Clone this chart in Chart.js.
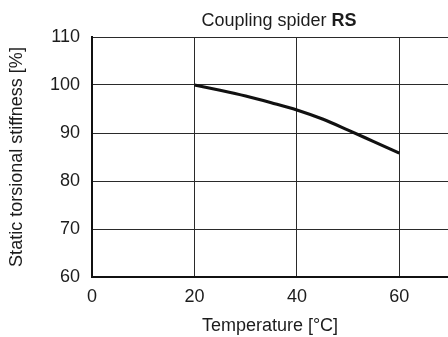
<!DOCTYPE html>
<html>
<head>
<meta charset="utf-8">
<script src="https://cdn.jsdelivr.net/npm/chart.js@4/dist/chart.umd.min.js"></script>
<style>
	html, body { margin: 0; padding: 0; background: #fff; overflow: hidden; }
	#box { width: 448px; height: 337px; }
</style>
</head>
<body>
<div id="box"><canvas id="canvas"></canvas></div>
<script>
	// stiffness curve of the RS spider vs temperature
	var temperature = [20, 25, 30, 35, 40, 45, 50, 55, 60];
	var stiffness = [100, 98.9, 97.7, 96.3, 94.8, 92.9, 90.6, 88.2, 85.8];
	var xTicks = [0, 20, 40, 60];
	var yTicks = [60, 70, 80, 90, 100, 110];
	var xMax = 69.5;

	var titleNormal = 'Coupling spider ';
	var titleBold = 'RS';
	var FONT = '"Liberation Sans", Arial, Helvetica, sans-serif';
	var INK = '#1c1c1c';

	var points = [];
	for(var i in temperature){
		points.push({x: temperature[i], y: stiffness[i]});
	}

	// title with a bold part, centred over the plot
	var mixedTitle = {
		id: 'mixedTitle',
		afterDraw: function(chart){
			var ctx = chart.ctx;
			ctx.save();
			ctx.fillStyle = INK;
			ctx.textBaseline = 'alphabetic';
			ctx.font = '18px ' + FONT;
			var w1 = ctx.measureText(titleNormal).width;
			ctx.font = 'bold 18px ' + FONT;
			var w2 = ctx.measureText(titleBold).width;
			var x = 279 - (w1 + w2) / 2;
			ctx.font = '18px ' + FONT;
			ctx.fillText(titleNormal, x, 26);
			ctx.font = 'bold 18px ' + FONT;
			ctx.fillText(titleBold, x + w1, 26);
			ctx.restore();
		}
	};

	var ctx = document.getElementById('canvas').getContext('2d');
	var chart = new Chart(ctx, {
		type: 'line',
		data: {
			datasets: [{
				data: points,
				borderColor: '#111',
				borderWidth: 3.2,
				pointRadius: 0,
				tension: 0.4,
				cubicInterpolationMode: 'monotone',
				fill: false
			}]
		},
		plugins: [mixedTitle],
		options: {
			responsive: true,
			maintainAspectRatio: false,
			animation: false,
			events: [],
			layout: { padding: { top: 37, left: 0, right: 0, bottom: 0 } },
			plugins: {
				legend: { display: false },
				title: { display: false },
				tooltip: { enabled: false }
			},
			scales: {
				x: {
					type: 'linear',
					min: 0,
					max: xMax,
					afterBuildTicks: function(scale){
						scale.ticks = xTicks.map(function(v){ return {value: v}; });
					},
					afterFit: function(scale){ scale.height = 60; },
					grid: { color: '#2a2a2a', lineWidth: 1, drawTicks: false },
					border: { color: '#111', width: 2 },
					ticks: {
						color: INK,
						font: { family: FONT, size: 18 },
						padding: 9,
						maxRotation: 0
					},
					title: {
						display: true,
						text: 'Temperature [°C]',
						color: INK,
						font: { family: FONT, size: 18 },
						padding: { top: 4, bottom: 0 }
					}
				},
				y: {
					min: 60,
					max: 110,
					afterBuildTicks: function(scale){
						scale.ticks = yTicks.map(function(v){ return {value: v}; });
					},
					afterFit: function(scale){ scale.width = 92; },
					grid: { color: '#2a2a2a', lineWidth: 1, drawTicks: false },
					border: { color: '#111', width: 2 },
					ticks: {
						color: INK,
						font: { family: FONT, size: 18 },
						padding: 12
					},
					title: {
						display: true,
						text: 'Static torsional stiffness [%]',
						color: INK,
						font: { family: FONT, size: 18 },
						padding: { top: 6, bottom: 0 }
					}
				}
			}
		}
	});
</script>
</body>
</html>
